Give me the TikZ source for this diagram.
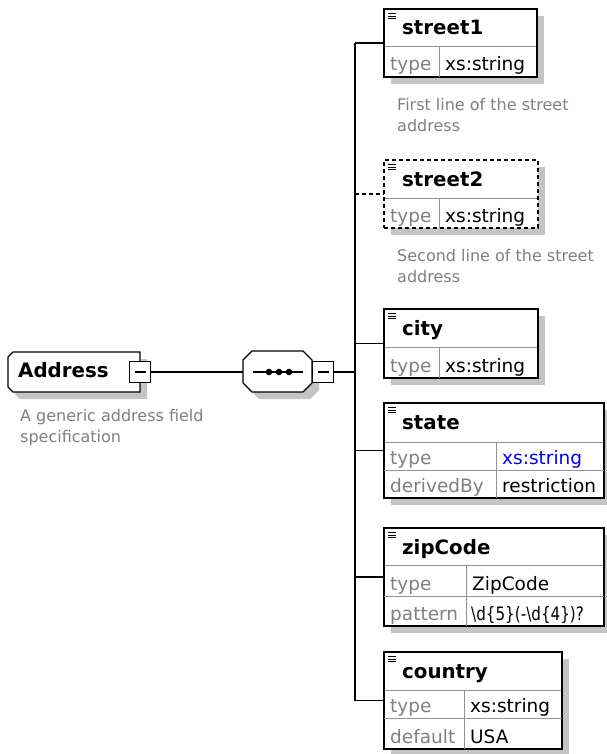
\documentclass[tikz,border=0pt]{standalone}
\usepackage{fontspec}
\setmainfont{DejaVu Sans}
\definecolor{lgray}{RGB}{128,128,128}
\definecolor{shadowc}{RGB}{196,196,196}
\definecolor{gridc}{RGB}{145,145,145}
\definecolor{xsblue}{RGB}{0,0,255}
\tikzset{
  hdrtxt/.style={anchor=base west, inner sep=0pt, font=\fontsize{19.8}{22}\selectfont\bfseries},
  celltxt/.style={anchor=base west, inner sep=0pt, font=\fontsize{18.5}{22}\selectfont},
  lbl/.style={celltxt, text=lgray},
  cmt/.style={anchor=north west, inner sep=0pt, align=left, text=lgray, font=\fontsize{16}{21}\selectfont},
  elem/.style={draw=black, line width=1.3pt, inner sep=0pt, rectangle},
  gridline/.style={draw=gridc, line width=1pt},
  conn/.style={line width=1.3pt},
  dashedline/.style={dash pattern=on 4pt off 3pt},
  minusbox/.style={draw, line width=1.3pt, fill=white, minimum width=21, minimum height=21, inner sep=0pt},
}
% name, left, top, right, bottom, header y, extra style
\newcommand\elbox[7]{%
  \fill[shadowc] (#2+7,#3+7) rectangle (#4+7,#5+7);
  \fill[white] (#2,#3) rectangle (#4,#5);
  \draw[gridline] (#2,#6) -- (#4,#6);
  \foreach \k in {0,1,2}{\draw[line width=0.9pt] (#2+4,#3+4.3+2.7*\k) -- (#2+12,#3+4.3+2.7*\k);}
  \node[elem,#7,minimum width={#4-#2},minimum height={#5-#3}] (#1) at ({(#2+#4)/2},{(#3+#5)/2}) {};
}
\begin{document}
\begin{tikzpicture}[x=1pt,y=-1pt]
\useasboundingbox[fill=white] (0,0) rectangle (606,754);
\coordinate (trunk) at (355,0);

% ---- Address ----
\fill[shadowc,shift={(7,7)}] (13,352) -- (140,352) -- (140,392) -- (13,392) -- (8,387) -- (8,357) -- cycle;
\draw[line width=1.3pt,fill=white] (13,352) -- (140,352) -- (140,392) -- (13,392) -- (8,387) -- (8,357) -- cycle;
\node[inner sep=0pt, minimum width=132, minimum height=40] (address) at (74,372) {};
\node[hdrtxt] (addrtxt) at (18,377) {Address};
\node[minusbox] (addrm) at (140,372) {};
\draw[line width=1.2pt] ([xshift=-5.5pt]addrm.center) -- ([xshift=5.5pt]addrm.center);
\node[cmt] (addrcmt) at (20,408.8) {A generic address field\\specification};

% ---- sequence ----
\fill[shadowc,shift={(7,7)}] (252,351) -- (303,351) -- (312,360) -- (312,383) -- (303,392) -- (252,392) -- (243,383) -- (243,360) -- cycle;
\draw[line width=1.3pt,fill=white] (252,351) -- (303,351) -- (312,360) -- (312,383) -- (303,392) -- (252,392) -- (243,383) -- (243,360) -- cycle;
\node[inner sep=0pt, minimum width=69, minimum height=41] (seq) at (277.5,372) {};
\draw[line width=1.3pt] (253,372) -- (303,372);
\foreach \dx in {269,279,289}{\fill (\dx,372) circle (3.3);}
\node[minusbox] (seqm) at (323,372) {};
\draw[line width=1.2pt] ([xshift=-5.5pt]seqm.center) -- ([xshift=5.5pt]seqm.center);

\draw[conn] (addrm.east) -- (seq.west);

% ---- street1 ----
\elbox{street1}{384}{9}{537}{77}{47}{}
\draw[gridline] (439,47) -- (439,77);
\node[hdrtxt] at (402,35) {street1};
\node[lbl] at (390,71) {type};
\node[celltxt] at (445,71) {xs:string};
\node[cmt] (c1) at (397,97.8) {First line of the street\\address};

% ---- street2 ----
\elbox{street2}{384}{160}{538}{228}{198}{dashedline}
\draw[gridline] (439,198) -- (439,228);
\node[hdrtxt] at (402,186) {street2};
\node[lbl] at (390,222) {type};
\node[celltxt] at (445,222) {xs:string};
\node[cmt] (c2) at (397,248.8) {Second line of the street\\address};

% ---- city ----
\elbox{city}{384}{309}{538}{378}{347}{}
\draw[gridline] (439,347) -- (439,378);
\node[hdrtxt] at (402,335) {city};
\node[lbl] at (390,372) {type};
\node[celltxt] at (445,372) {xs:string};

% ---- state ----
\elbox{state}{384}{403}{604}{498}{442}{}
\draw[gridline] (384,470) -- (604,470);
\draw[gridline] (496,442) -- (496,498);
\node[hdrtxt] at (402,429) {state};
\node[lbl] at (390,464) {type};
\node[celltxt,text=xsblue] at (502,464) {xs:string};
\node[lbl] at (390,492) {derivedBy};
\node[celltxt] at (502,492) {restriction};

% ---- zipCode ----
\elbox{zipCode}{384}{528}{604}{626}{565}{}
\draw[gridline] (384,596) -- (604,596);
\draw[gridline] (466,565) -- (466,626);
\node[hdrtxt] at (402,554) {zipCode};
\node[lbl] at (390,590) {type};
\node[celltxt] at (472,590) {ZipCode};
\node[lbl] at (390,620) {pattern};
\node[celltxt] at (471,620) {\scalebox{0.82}[1]{\textbackslash d\{5\}(-\textbackslash d\{4\})?}};

% ---- country ----
\elbox{country}{384}{652}{562}{749}{690}{}
\draw[gridline] (384,718) -- (562,718);
\draw[gridline] (464,690) -- (464,749);
\node[hdrtxt] at (402,678) {country};
\node[lbl] at (390,712) {type};
\node[celltxt] at (470,712) {xs:string};
\node[lbl] at (390,743) {default};
\node[celltxt] at (470,743) {USA};

% ---- connectors ----
\draw[conn] (seqm.east) -- (trunk |- seqm.east);
\draw[conn] (trunk |- street1.west) -- (trunk |- country.west);
\draw[conn] (trunk |- street1.west) -- (street1.west);
\draw[conn,dashedline] (trunk |- street2.west) -- (street2.west);
\draw[conn] (trunk |- city.west) -- (city.west);
\draw[conn] (trunk |- state.west) -- (state.west);
\draw[conn] (trunk |- zipCode.west) -- (zipCode.west);
\draw[conn] (trunk |- country.west) -- (country.west);
\end{tikzpicture}
\end{document}
